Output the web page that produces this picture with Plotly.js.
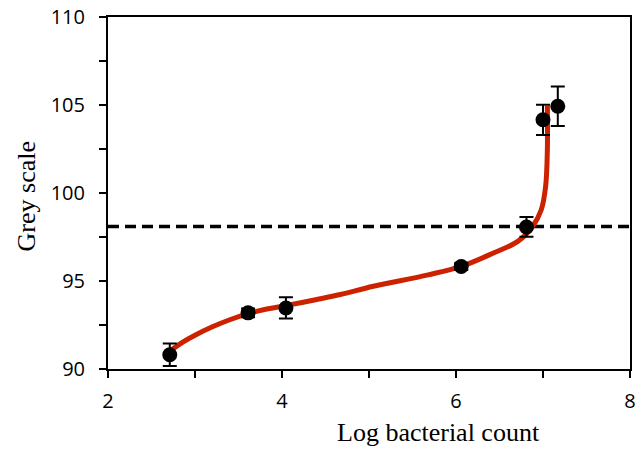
<!DOCTYPE html>
<html>
<head>
<meta charset="utf-8">
<script src="https://cdn.plot.ly/plotly-3.0.1.min.js"></script>
<style>html,body{margin:0;padding:0;background:#fff;}#chart{width:637px;height:453px;}</style>
</head>
<body>
<div id="chart"></div>
<script>
// Measured points
const logCount = [2.71, 3.61, 4.045, 6.06, 6.81, 7.0, 7.17];
const greyScale = [90.81, 93.19, 93.47, 95.82, 98.07, 104.16, 104.93];
const greyErr = [0.64, 0.25, 0.6, 0.2, 0.56, 0.86, 1.12];

// Fitted curve
const curveX = [2.72, 2.85, 3.0, 3.2, 3.4, 3.61, 3.8, 4.04, 4.4, 4.67, 5.05, 5.68, 6.06, 6.43, 6.71, 6.88, 6.98, 7.03, 7.05, 7.05];
const curveY = [91.05, 91.5, 91.92, 92.4, 92.8, 93.15, 93.38, 93.6, 93.95, 94.23, 94.7, 95.35, 95.83, 96.59, 97.25, 98.1, 99.05, 100.37, 102.45, 104.95];

// Threshold
const thresholdX = [2, 8];
const thresholdY = [98.1, 98.1];

// Ticks
const yTickVals = [90, 92.5, 95, 97.5, 100, 102.5, 105, 107.5, 110];
const yTickText = ['90', '', '95', '', '100', '', '105', '', '110'];
const xTickVals = [2, 3, 4, 5, 6, 7, 8];
const xTickText = ['2', '', '4', '', '6', '', '8'];

const traces = [
  {x: thresholdX, y: thresholdY, mode: 'lines', line: {color: '#000', width: 3.5, dash: '11px,6px'}, hoverinfo: 'skip'},
  {x: curveX, y: curveY, mode: 'lines', line: {color: '#CC2200', width: 5, shape: 'spline', smoothing: 1}},
  {x: logCount, y: greyScale, mode: 'markers', marker: {color: '#000', size: 15},
   error_y: {type: 'data', array: greyErr, visible: true, color: '#000', thickness: 2, width: 7}}
];

const tickFont = {family: 'Open Sans, sans-serif', size: 20, color: '#000'};
const layout = {
  width: 637, height: 453,
  margin: {l: 108, r: 7, t: 17, b: 84},
  showlegend: false,
  paper_bgcolor: '#fff', plot_bgcolor: '#fff',
  xaxis: {range: [2, 8], tickvals: xTickVals, ticktext: xTickText, ticks: 'outside', ticklen: 7, tickwidth: 2,
          tickcolor: '#000', showline: true, linecolor: '#000', linewidth: 2, mirror: true, showgrid: false,
          zeroline: false, tickfont: tickFont, ticklabelstandoff: 6},
  yaxis: {range: [90, 110], tickvals: yTickVals, ticktext: yTickText, ticks: 'outside', ticklen: 7, tickwidth: 2,
          tickcolor: '#000', showline: true, linecolor: '#000', linewidth: 2, mirror: true, showgrid: false,
          zeroline: false, tickfont: tickFont, ticklabelstandoff: 10},
  annotations: [
    {text: 'Log bacterial count', xref: 'paper', yref: 'paper', x: 0.633, y: -0.18, xanchor: 'center', yanchor: 'middle',
     showarrow: false, font: {family: 'Liberation Serif, Times New Roman, serif', size: 26, color: '#000'}},
    {text: 'Grey scale', xref: 'paper', yref: 'paper', x: -0.156, y: 0.489, xanchor: 'center', yanchor: 'middle',
     textangle: -90, showarrow: false, font: {family: 'Liberation Serif, Times New Roman, serif', size: 26, color: '#000'}}
  ]
};
Plotly.newPlot('chart', traces, layout, {displayModeBar: false, staticPlot: true});
</script>
</body>
</html>
